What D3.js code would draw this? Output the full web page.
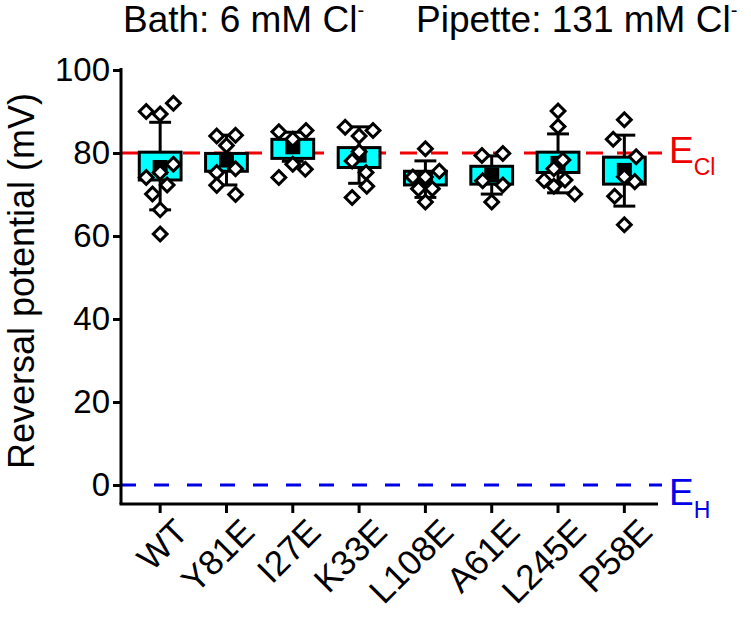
<!DOCTYPE html>
<html>
<head>
<meta charset="utf-8">
<script src="https://cdn.jsdelivr.net/npm/d3@7"></script>
<style>
body { margin: 0; background: #fff; }
text { font-family: "Liberation Sans", Arial, sans-serif; }
</style>
</head>
<body>
<svg id="chart" width="751" height="626"></svg>
<script>

// data (mV)
var groups = ["WT", "Y81E", "I27E", "K33E", "L108E", "A61E", "L245E", "P58E"];
var boxLow  = [73.5, 75.6, 78.7, 76.5, 72.3, 72.5, 75.3, 72.5];
var boxHigh = [80.2, 79.9, 83.3, 81.3, 75.6, 76.8, 80.2, 79.0];
var means   = [76.5, 78.3, 81.5, 79.5, 73.7, 74.7, 77.5, 75.8];
var sdLow   = [66.3, 72.3, 78.0, 72.7, 69.3, 70.1, 70.4, 67.2];
var sdHigh  = [87.4, 84.3, 85.0, 86.3, 78.1, 79.3, 84.6, 84.3];

// individual cells: value and horizontal jitter column (-1 .. 1)
var cellValues = [
  [90.0, 89.4, 92.0, 77.3, 75.3, 74.1, 72.3, 70.1, 66.3, 60.5],
  [84.1, 84.3, 81.8, 76.2, 75.3, 72.2, 70.0],
  [85.1, 85.4, 83.3, 77.3, 76.1, 74.1],
  [86.2, 85.4, 84.1, 80.3, 78.1, 75.3, 72.0, 69.3],
  [81.0, 74.2, 74.2, 75.6, 71.4, 71.4, 68.2],
  [79.4, 79.9, 73.3, 72.3, 68.2],
  [90.1, 86.4, 78.3, 76.2, 73.4, 73.5, 72.0, 70.1],
  [88.0, 83.3, 79.1, 74.3, 73.1, 69.6, 62.7]
];
var cellJitter = [
  [-1, 0, 0.95, 0.95, 0, -1, 0.5, -0.55, 0, 0],
  [-0.7, 0.65, 0, 0.65, -0.7, -0.7, 0.65],
  [-1, 0.95, 0, 0, 0.9, -1],
  [-1, 1, 0, 0, -0.5, 0.5, 0.55, -0.5],
  [0, -0.9, 0, 1, -0.5, 0.5, 0],
  [-0.7, 0.8, -0.65, 0.8, 0],
  [0, 0, 0.35, -0.3, -1, 0.5, -0.3, 1.2],
  [0, -0.8, 0.85, 0, 0.75, -0.7, 0]
];

var yTicks = [0, 20, 40, 60, 80, 100];
var eCl = 80, eH = 0;

var svg = d3.select("#chart");

var x = d3.scaleBand().domain(groups).range([127, 657.5]).padding(0);
var y = d3.scaleLinear().domain([0, 100]).range([485, 70]);
var jit = d3.scaleLinear().domain([-1, 1]).range([-x.step() * 0.21, x.step() * 0.21]);

var boxW = x.step() * 0.63,
    capW = x.step() * 0.33,
    meanS = 15;

var data = groups.map(function(g, i) {
  return {name: g, lo: boxLow[i], hi: boxHigh[i], mean: means[i],
          sdl: sdLow[i], sdh: sdHigh[i],
          cells: cellValues[i].map(function(v, j) { return {v: v, j: cellJitter[i][j]}; })};
});

function cx(d) { return x(d.name) + x.bandwidth() / 2; }

// title
var t1 = svg.append("text").attr("x", 123).attr("y", 32).attr("font-size", 37).text("Bath: 6 mM Cl");
t1.append("tspan").attr("dy", -15).attr("font-size", 20).text("-");
var t2 = svg.append("text").attr("x", 416).attr("y", 32).attr("font-size", 37).text("Pipette: 131 mM Cl");
t2.append("tspan").attr("dy", -15).attr("font-size", 20).text("-");

// reference lines
svg.append("line")
    .attr("x1", 121).attr("x2", 662)
    .attr("y1", y(eCl)).attr("y2", y(eCl))
    .attr("stroke", "#f00000").attr("stroke-width", 3)
    .attr("stroke-dasharray", "17,14");
svg.append("line")
    .attr("x1", 121).attr("x2", 662)
    .attr("y1", y(eH)).attr("y2", y(eH))
    .attr("stroke", "#0000e6").attr("stroke-width", 3)
    .attr("stroke-dasharray", "15,18");

var lCl = svg.append("text").attr("x", 669).attr("y", y(eCl) + 10)
    .attr("font-size", 37).attr("fill", "#f00000").text("E");
lCl.append("tspan").attr("dy", 12).attr("font-size", 23).text("Cl");
var lH = svg.append("text").attr("x", 669).attr("y", y(eH) + 20)
    .attr("font-size", 37).attr("fill", "#0000e6").text("E");
lH.append("tspan").attr("dy", 13).attr("font-size", 23).text("H");

// axes
var yAxis = d3.axisLeft(y).tickValues(yTicks).tickSize(8).tickPadding(3).tickSizeOuter(0);
var gy = svg.append("g").attr("transform", "translate(121,0)").call(yAxis);
gy.select(".domain").attr("d", "M0," + (y(100) - 2) + "V504");

var xAxis = d3.axisBottom(x).tickSize(9).tickSizeOuter(0);
var gx = svg.append("g").attr("transform", "translate(0,504)").call(xAxis);
gx.select(".domain").attr("d", "M119.5,0H658");

svg.selectAll(".domain, .tick line").attr("stroke", "#000").attr("stroke-width", 3);
svg.selectAll(".tick text").attr("font-size", 33).attr("fill", "#000")
    .style("font-family", "'Liberation Sans', Arial, sans-serif");

gx.selectAll(".tick text")
    .attr("text-anchor", "end")
    .attr("x", 0).attr("y", 0).attr("dy", 0)
    .attr("font-size", 35)
    .attr("transform", "translate(30,30) rotate(-45)");

// y label
svg.append("text")
    .attr("transform", "translate(34,281) rotate(-90)")
    .attr("text-anchor", "middle")
    .attr("font-size", 36)
    .text("Reversal potential (mV)");

// boxes
var g = svg.selectAll(".grp").data(data).enter().append("g").attr("class", "grp");

g.append("line")
    .attr("x1", cx).attr("x2", cx)
    .attr("y1", function(d) { return y(d.sdh); })
    .attr("y2", function(d) { return y(d.sdl); })
    .attr("stroke", "#000").attr("stroke-width", 3);
g.append("line")
    .attr("x1", function(d) { return cx(d) - capW / 2; })
    .attr("x2", function(d) { return cx(d) + capW / 2; })
    .attr("y1", function(d) { return y(d.sdh); })
    .attr("y2", function(d) { return y(d.sdh); })
    .attr("stroke", "#000").attr("stroke-width", 3);
g.append("line")
    .attr("x1", function(d) { return cx(d) - capW / 2; })
    .attr("x2", function(d) { return cx(d) + capW / 2; })
    .attr("y1", function(d) { return y(d.sdl); })
    .attr("y2", function(d) { return y(d.sdl); })
    .attr("stroke", "#000").attr("stroke-width", 3);

g.append("rect")
    .attr("x", function(d) { return cx(d) - boxW / 2; })
    .attr("width", boxW)
    .attr("y", function(d) { return y(d.hi); })
    .attr("height", function(d) { return y(d.lo) - y(d.hi); })
    .attr("fill", "#00ffff").attr("stroke", "#000").attr("stroke-width", 3);

g.append("rect")
    .attr("x", function(d) { return cx(d) - meanS / 2; })
    .attr("y", function(d) { return y(d.mean) - meanS / 2; })
    .attr("width", meanS).attr("height", meanS)
    .attr("fill", "#000");

// cells
g.selectAll(".cell").data(function(d) { return d.cells.map(function(c) { return {c: c, x0: cx(d)}; }); })
  .enter().append("path")
    .attr("class", "cell")
    .attr("d", d3.symbol().type(d3.symbolSquare).size(95))
    .attr("transform", function(d) { return "translate(" + (d.x0 + jit(d.c.j)) + "," + y(d.c.v) + ") rotate(45)"; })
    .attr("fill", "#fff").attr("stroke", "#000").attr("stroke-width", 3);

</script>
</body>
</html>
